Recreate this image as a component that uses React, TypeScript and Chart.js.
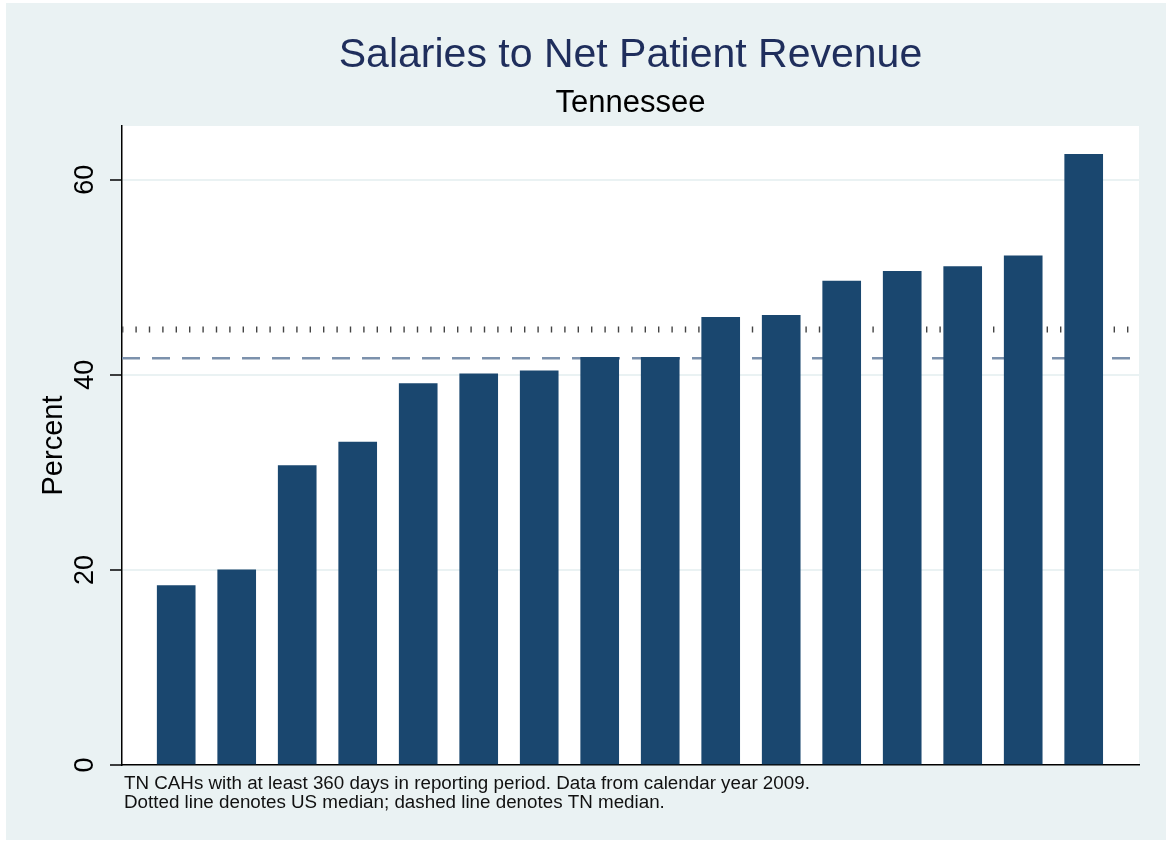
import { useEffect, useRef } from "react";
import { Chart, registerables } from "chart.js";

Chart.register(...registerables);

const CATEGORIES = [1, 2, 3, 4, 5, 6, 7, 8, 9, 10, 11, 12, 13, 14, 15, 16];
const VALUES = [18.4, 20.0, 30.7, 33.1, 39.1, 40.1, 40.4, 41.8, 41.8, 45.9, 46.1, 49.6, 50.6, 51.1, 52.2, 62.6];
const Y_TICKS = [0, 20, 40, 60];
const US_MEDIAN = 44.65;
const TN_MEDIAN = 41.7;
const TITLE = "Salaries to Net Patient Revenue";
const SUBTITLE = "Tennessee";
const Y_LABEL = "Percent";
const NOTES = [
  "TN CAHs with at least 360 days in reporting period. Data from calendar year 2009.",
  "Dotted line denotes US median; dashed line denotes TN median.",
];

const FONT = "'Liberation Sans', Arial, Helvetica, sans-serif";
const BG = "#EAF2F3";
const NAVY = "#1A476F";

const decor = {
  id: "decor",
  beforeDraw(chart: any) {
    const { ctx, chartArea } = chart;
    const { left, top, right, bottom } = chartArea;
    ctx.save();
    ctx.fillStyle = "#ffffff";
    ctx.fillRect(left, top, right - left, bottom - top);
    ctx.restore();
  },
  beforeDatasetsDraw(chart: any) {
    const { ctx, chartArea, scales } = chart;
    const { left, right } = chartArea;
    const yUS = scales.y.getPixelForValue(US_MEDIAN);
    const yTN = scales.y.getPixelForValue(TN_MEDIAN);
    ctx.save();
    ctx.lineCap = "butt";
    // dotted (US median)
    ctx.strokeStyle = "#444444";
    ctx.lineWidth = 6;
    ctx.setLineDash([1.4, 12]);
    ctx.beginPath();
    ctx.moveTo(left, yUS);
    ctx.lineTo(right, yUS);
    ctx.stroke();
    // dashed (TN median)
    ctx.strokeStyle = "#7C91AC";
    ctx.lineWidth = 2.5;
    ctx.setLineDash([18, 12]);
    ctx.beginPath();
    ctx.moveTo(left, yTN);
    ctx.lineTo(right, yTN);
    ctx.stroke();
    ctx.restore();
  },
  afterDraw(chart: any) {
    const { ctx, chartArea } = chart;
    const cx = (chartArea.left + chartArea.right) / 2;
    ctx.save();
    ctx.textAlign = "center";
    ctx.textBaseline = "alphabetic";
    ctx.fillStyle = "#1F2E5C";
    ctx.font = `41px ${FONT}`;
    ctx.fillText(TITLE, cx, 64);
    ctx.fillStyle = "#000000";
    ctx.font = `31px ${FONT}`;
    ctx.fillText(SUBTITLE, cx, 108.5);
    ctx.textAlign = "left";
    ctx.font = `18.8px ${FONT}`;
    ctx.fillStyle = "#111111";
    ctx.fillText(NOTES[0], 118, 786);
    ctx.fillText(NOTES[1], 118, 804.5);
    ctx.restore();
  },
};

export default function App() {
  const ref = useRef<HTMLCanvasElement | null>(null);
  useEffect(() => {
    if (!ref.current) return;
    Chart.defaults.font.family = FONT;
    const chart = new Chart(ref.current, {
      type: "bar",
      data: {
        datasets: [
          {
            data: VALUES.map((v, i) => ({ x: CATEGORIES[i], y: v })),
            backgroundColor: NAVY,
            borderColor: NAVY,
            borderWidth: 0,
            barThickness: 38,
          },
        ],
      },
      options: {
        animation: false,
        responsive: false,
        devicePixelRatio: 1,
        layout: { padding: { left: 0, top: 123, right: 27, bottom: 75 } },
        plugins: {
          legend: { display: false },
          tooltip: { enabled: false },
          title: { display: false },
        },
        scales: {
          x: {
            type: "linear",
            min: 0.104,
            max: 16.914,
            offset: false,
            ticks: { display: false },
            grid: { display: false, drawTicks: false },
            border: { display: true, color: "#000000", width: 1.5 },
            afterFit: (s: any) => {
              s.height = 0;
            },
          },
          y: {
            type: "linear",
            min: 0,
            max: 65.5,
            afterBuildTicks: (s: any) => {
              s.ticks = Y_TICKS.map((v) => ({ value: v }));
            },
            ticks: {
              minRotation: 90,
              maxRotation: 90,
              crossAlign: "center",
              padding: 9,
              color: "#000000",
              font: { family: FONT, size: 27 },
            },
            grid: {
              color: BG,
              lineWidth: 2,
              tickColor: "#000000",
              tickLength: 12,
              tickWidth: 1.5,
            },
            border: { display: true, color: "#000000", width: 1.5 },
            title: {
              display: true,
              text: Y_LABEL,
              color: "#000000",
              font: { family: FONT, size: 29 },
              padding: { top: 31, bottom: 0 },
            },
            afterFit: (s: any) => {
              s.width = 116;
            },
          },
        },
      },
      plugins: [decor],
    } as any);
    return () => chart.destroy();
  }, []);

  return (
    <div style={{ position: "absolute", left: 0, top: 0, width: 1166, height: 848, background: "#ffffff" }}>
      <canvas
        ref={ref}
        width={1160}
        height={837}
        style={{ position: "absolute", left: 6, top: 3, width: 1160, height: 837, background: BG }}
      />
    </div>
  );
}
